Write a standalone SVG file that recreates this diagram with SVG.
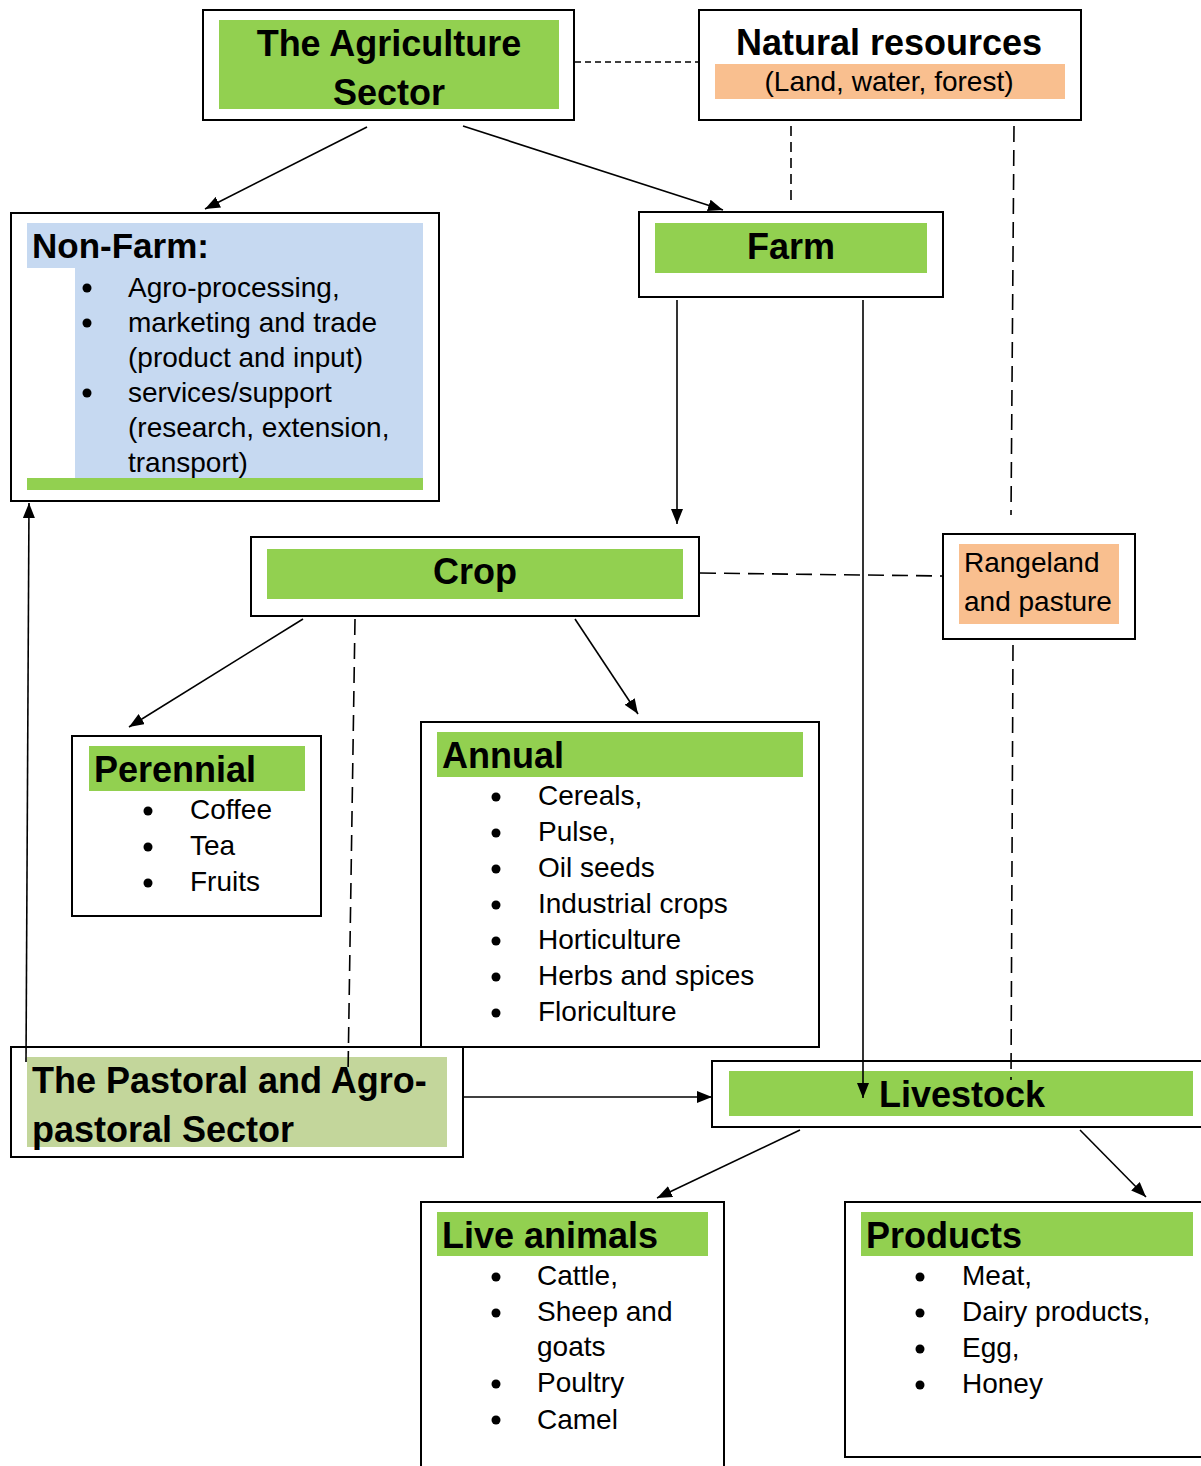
<svg xmlns="http://www.w3.org/2000/svg" width="1201" height="1466" viewBox="0 0 1201 1466">
<style>
.box{fill:#fff;stroke:#000;stroke-width:2}
.g{fill:#92D050}
.o{fill:#F9BF8F}
.b{fill:#C6D9F1}
.ol{fill:#C3D69B}
.h{font-family:"Liberation Sans",Arial,sans-serif;font-weight:bold;font-size:36px;fill:#000}
.t{font-family:"Liberation Sans",Arial,sans-serif;font-size:28px;fill:#000}
.c{text-anchor:middle}
.ln{stroke:#000;stroke-width:1.6;fill:none}
.d1{stroke-dasharray:6 4}
.d2{stroke-dasharray:10 6}
.d3{stroke-dasharray:16 8}
</style>
<defs>
<marker id="ah" markerUnits="userSpaceOnUse" markerWidth="16" markerHeight="12" refX="15" refY="6" orient="auto">
<path d="M0,0 L15,6 L0,12 z" fill="#000"/>
</marker>
</defs>
<rect width="1201" height="1466" fill="#fff"/>

<g id="agriculture">
<rect class="box" x="203" y="10" width="371" height="110"/>
<rect class="g" x="219" y="20" width="340" height="89"/>
<text class="h c" x="389" y="56">The Agriculture</text>
<text class="h c" x="389" y="105">Sector</text>
</g>

<g id="natural-resources">
<rect class="box" x="699" y="10" width="382" height="110"/>
<rect class="o" x="715" y="64" width="350" height="35"/>
<text class="h c" x="889" y="55">Natural resources</text>
<text class="t c" x="889" y="91">(Land, water, forest)</text>
</g>

<g id="non-farm">
<rect class="box" x="11" y="213" width="428" height="288"/>
<path class="b" d="M27,223 H423 V478 H75 V268 H27 Z"/>
<rect class="g" x="27" y="478" width="396" height="12"/>
<text class="h" x="32" y="258" style="font-size:35px">Non-Farm:</text>
<circle cx="87" cy="288" r="4.5"/>
<circle cx="87" cy="323" r="4.5"/>
<circle cx="87" cy="393" r="4.5"/>
<text class="t" x="128" y="297">Agro-processing,</text>
<text class="t" x="128" y="332">marketing and trade</text>
<text class="t" x="128" y="367">(product and input)</text>
<text class="t" x="128" y="402">services/support</text>
<text class="t" x="128" y="437">(research, extension,</text>
<text class="t" x="128" y="472">transport)</text>
</g>

<g id="farm">
<rect class="box" x="639" y="212" width="304" height="85"/>
<rect class="g" x="655" y="223" width="272" height="50"/>
<text class="h c" x="791" y="259">Farm</text>
</g>

<g id="crop">
<rect class="box" x="251" y="537" width="448" height="79"/>
<rect class="g" x="267" y="549" width="416" height="50"/>
<text class="h c" x="475" y="584">Crop</text>
</g>

<g id="rangeland">
<rect class="box" x="943" y="534" width="192" height="105"/>
<rect class="o" x="959" y="544" width="160" height="80"/>
<text class="t" x="964" y="572">Rangeland</text>
<text class="t" x="964" y="611">and pasture</text>
</g>

<g id="perennial">
<rect class="box" x="72" y="736" width="249" height="180"/>
<rect class="g" x="89" y="746" width="216" height="45"/>
<text class="h" x="94" y="782">Perennial</text>
<circle cx="148" cy="811" r="4.5"/>
<circle cx="148" cy="847" r="4.5"/>
<circle cx="148" cy="883" r="4.5"/>
<text class="t" x="190" y="819">Coffee</text>
<text class="t" x="190" y="855">Tea</text>
<text class="t" x="190" y="891">Fruits</text>
</g>

<g id="annual">
<rect class="box" x="421" y="722" width="398" height="325"/>
<rect class="g" x="437" y="732" width="366" height="45"/>
<text class="h" x="442" y="768">Annual</text>
<g>
<circle cx="496" cy="797" r="4.5"/>
<circle cx="496" cy="833" r="4.5"/>
<circle cx="496" cy="869" r="4.5"/>
<circle cx="496" cy="905" r="4.5"/>
<circle cx="496" cy="941" r="4.5"/>
<circle cx="496" cy="977" r="4.5"/>
<circle cx="496" cy="1013" r="4.5"/>
</g>
<text class="t" x="538" y="805">Cereals,</text>
<text class="t" x="538" y="841">Pulse,</text>
<text class="t" x="538" y="877">Oil seeds</text>
<text class="t" x="538" y="913">Industrial crops</text>
<text class="t" x="538" y="949">Horticulture</text>
<text class="t" x="538" y="985">Herbs and spices</text>
<text class="t" x="538" y="1021">Floriculture</text>
</g>

<g id="pastoral">
<rect class="box" x="11" y="1047" width="452" height="110"/>
<rect class="ol" x="27" y="1057" width="420" height="90"/>
<text class="h" x="32" y="1093">The Pastoral and Agro-</text>
<text class="h" x="32" y="1142">pastoral Sector</text>
</g>

<g id="livestock">
<rect class="box" x="712" y="1061" width="500" height="66"/>
<rect class="g" x="729" y="1071" width="464" height="45"/>
<text class="h" x="879" y="1107">Livestock</text>
</g>

<g id="live-animals">
<rect class="box" x="421" y="1202" width="303" height="280"/>
<rect class="g" x="437" y="1212" width="271" height="44"/>
<text class="h" x="442" y="1248">Live animals</text>
<circle cx="496" cy="1277" r="4.5"/>
<circle cx="496" cy="1313" r="4.5"/>
<circle cx="496" cy="1384" r="4.5"/>
<circle cx="496" cy="1420" r="4.5"/>
<text class="t" x="537" y="1285">Cattle,</text>
<text class="t" x="537" y="1321">Sheep and</text>
<text class="t" x="537" y="1356">goats</text>
<text class="t" x="537" y="1392">Poultry</text>
<text class="t" x="537" y="1429">Camel</text>
</g>

<g id="products">
<rect class="box" x="845" y="1202" width="370" height="255"/>
<rect class="g" x="861" y="1212" width="332" height="44"/>
<text class="h" x="866" y="1248">Products</text>
<circle cx="920" cy="1277" r="4.5"/>
<circle cx="920" cy="1313" r="4.5"/>
<circle cx="920" cy="1349" r="4.5"/>
<circle cx="920" cy="1385" r="4.5"/>
<text class="t" x="962" y="1285">Meat,</text>
<text class="t" x="962" y="1321">Dairy products,</text>
<text class="t" x="962" y="1357">Egg,</text>
<text class="t" x="962" y="1393">Honey</text>
</g>

<g id="connectors">
<line class="ln" x1="367" y1="127" x2="205" y2="209" marker-end="url(#ah)"/>
<line class="ln" x1="463" y1="126" x2="723" y2="210" marker-end="url(#ah)"/>
<line class="ln d1" x1="575" y1="62" x2="699" y2="62"/>
<line class="ln d2" x1="791" y1="126" x2="791" y2="205"/>
<line class="ln d3" x1="1014" y1="126" x2="1011" y2="515"/>
<line class="ln" x1="677" y1="300" x2="677" y2="524" marker-end="url(#ah)"/>
<line class="ln" x1="863" y1="300" x2="863" y2="1098" marker-end="url(#ah)"/>
<line class="ln d3" x1="700" y1="573" x2="943" y2="576"/>
<line class="ln d3" x1="1013" y1="645" x2="1011" y2="1080"/>
<line class="ln" x1="303" y1="619" x2="129" y2="727" marker-end="url(#ah)"/>
<line class="ln" x1="575" y1="619" x2="638" y2="714" marker-end="url(#ah)"/>
<line class="ln d3" x1="355" y1="619" x2="348" y2="1075"/>
<line class="ln" x1="26" y1="1062" x2="29" y2="503" marker-end="url(#ah)"/>
<line class="ln" x1="463" y1="1097" x2="712" y2="1097" stroke-width="2" marker-end="url(#ah)"/>
<line class="ln" x1="800" y1="1130" x2="657" y2="1198" marker-end="url(#ah)"/>
<line class="ln" x1="1080" y1="1130" x2="1146" y2="1197" marker-end="url(#ah)"/>
</g>
</svg>
